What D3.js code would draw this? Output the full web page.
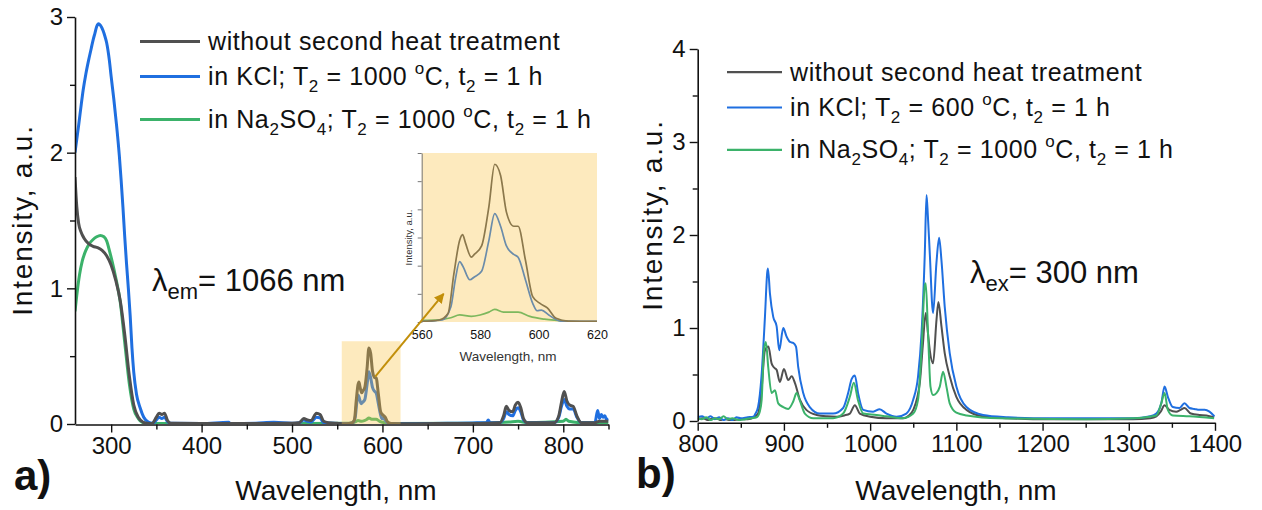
<!DOCTYPE html>
<meta charset="utf-8">
<script src="https://d3js.org/d3.v7.min.js"></script>
<style>
  body { margin: 0; background: #fff; }
  text { font-family: "Liberation Sans", Arial, sans-serif; fill: #111; }
</style>
<div id="chart"></div>
<script>
// ---- data: [wavelength nm, intensity a.u.] ----
// panel a) excitation spectra, lambda_em = 1066 nm
const aWithout = [[260,1.82],[262,1.6],[264,1.48],[267,1.41],[270,1.37],[275,1.33],[280,1.31],[285,1.3],[290,1.28],[295,1.24],[300,1.17],[305,1.06],[310,0.91],[315,0.66],[320,0.36],[325,0.14],[330,0.05],[335,0.015],[340,0.005],[345,0.003],[350,0.05],[353,0.08],[356,0.07],[359,0.08],[362,0.03],[366,0.005],[400,0.004],[450,0.004],[500,0.006],[508,0.01],[513,0.04],[517,0.03],[521,0.025],[527,0.08],[531,0.07],[535,0.02],[540,0.01],[550,0.005],[560,0.002],[566,0.007],[569,0.03],[571,0.17],[573,0.29],[574,0.31],[575,0.28],[577,0.23],[578,0.24],[580.5,0.27],[583,0.41],[585,0.56],[587,0.52],[589,0.39],[591.5,0.34],[593,0.34],[595.5,0.22],[598,0.09],[600.5,0.066],[603,0.05],[606,0.013],[610,0.003],[620,0.002],[660,0.003],[700,0.004],[730,0.01],[734,0.06],[737,0.13],[740,0.1],[744,0.09],[747,0.14],[750,0.16],[753,0.12],[756,0.04],[760,0.01],[790,0.01],[795,0.06],[798,0.16],[801,0.24],[804,0.17],[807,0.14],[811,0.13],[815,0.06],[820,0.01],[835,0.01],[840,0.02],[850,0.02]];
const aKCl = [[260,2.0],[262,2.1],[264,2.2],[267,2.36],[269,2.46],[272,2.58],[275,2.68],[278,2.77],[280,2.83],[282,2.88],[284,2.93],[286,2.95],[288,2.94],[291,2.9],[293,2.86],[295,2.81],[298,2.68],[300,2.56],[303,2.39],[306,2.2],[309,1.98],[311,1.8],[313,1.6],[315,1.38],[317,1.18],[319,1.0],[321,0.8],[323,0.56],[325,0.38],[328,0.22],[332,0.12],[336,0.05],[341,0.015],[346,0.005],[350,0.03],[353,0.05],[356,0.04],[359,0.05],[362,0.02],[366,0.005],[400,0.004],[430,0.012],[432,0.003],[460,0.006],[480,0.012],[500,0.005],[508,0.01],[513,0.03],[517,0.02],[521,0.015],[527,0.05],[531,0.045],[535,0.01],[550,0.004],[560,0.001],[567,0.007],[570,0.054],[571.5,0.15],[573,0.214],[574,0.2],[576.5,0.15],[578,0.16],[580.5,0.18],[583,0.29],[585,0.385],[587,0.34],[589,0.27],[591.5,0.24],[593,0.23],[595.5,0.15],[598,0.066],[599.5,0.04],[601,0.042],[603.5,0.025],[607.5,0.003],[620,0.002],[680,0.006],[700,0.008],[715,0.01],[717,0.03],[719,0.01],[730,0.01],[734,0.04],[737,0.09],[740,0.07],[744,0.06],[747,0.1],[750,0.12],[753,0.09],[756,0.03],[760,0.01],[790,0.01],[795,0.05],[798,0.13],[801,0.18],[804,0.13],[807,0.11],[811,0.11],[815,0.05],[820,0.01],[835,0.01],[838,0.1],[840,0.04],[842,0.07],[844,0.05],[846,0.06],[848,0.03],[850,0.04]];
const aNa2SO4 = [[260,0.83],[262,0.95],[265,1.1],[268,1.2],[272,1.28],[276,1.33],[280,1.36],[284,1.38],[288,1.39],[292,1.38],[295,1.35],[298,1.28],[301,1.2],[305,1.08],[310,0.9],[315,0.6],[320,0.3],[325,0.11],[330,0.04],[335,0.01],[340,0.003],[400,0.003],[500,0.003],[560,0.006],[566,0.008],[570,0.015],[573,0.025],[577,0.02],[580,0.025],[583,0.035],[585,0.045],[588,0.035],[593,0.035],[597,0.02],[602,0.01],[610,0.003],[700,0.005],[740,0.015],[750,0.02],[760,0.01],[800,0.02],[803,0.035],[806,0.02],[820,0.01],[850,0.01]];

// panel b) emission spectra, lambda_ex = 300 nm
const bWithout = [[800,0.02],[806,0.03],[812,0.01],[818,0.03],[824,0.02],[830,-0.01],[836,0.0],[842,0.01],[850,0.02],[858,0.02],[865,0.04],[870,0.08],[874,0.33],[878,0.76],[882,0.8],[885.7,0.62],[888,0.58],[891.5,0.55],[895.3,0.42],[900,0.56],[905,0.44],[909,0.48],[912.7,0.41],[918.5,0.23],[926,0.12],[938,0.065],[950,0.05],[961,0.046],[970,0.06],[976.5,0.08],[982.3,0.17],[988,0.08],[1000,0.046],[1019,0.03],[1038,0.03],[1045,0.06],[1050,0.12],[1057.6,0.41],[1061,0.8],[1064.5,1.16],[1067,0.95],[1069.2,0.76],[1073,0.62],[1077,1.09],[1079.2,1.28],[1082.7,1.02],[1086.5,0.73],[1092.3,0.48],[1100,0.26],[1111.7,0.12],[1131,0.05],[1160,0.03],[1189,0.02],[1250,0.02],[1305,0.02],[1325,0.03],[1332,0.05],[1337,0.1],[1341.5,0.17],[1347,0.12],[1355,0.1],[1360,0.12],[1364.6,0.14],[1372,0.08],[1382,0.065],[1390,0.06],[1399,0.04]];
const bKCl = [[800,0.04],[805,0.05],[810,0.03],[815,0.05],[820,0.02],[825,0.04],[830,0.01],[835,0.03],[840,0.01],[845,0.04],[850,0.03],[858,0.04],[864.5,0.046],[867,0.08],[870,0.15],[874,0.48],[878,1.12],[880.7,1.6],[881.5,1.64],[883.8,1.37],[887.6,1.12],[891.5,1.02],[894.6,0.76],[899.2,1.0],[903,0.91],[907,0.85],[910.8,0.84],[914,0.8],[916.6,0.58],[922.4,0.3],[930,0.15],[941.7,0.08],[957,0.08],[968.7,0.14],[974.5,0.3],[978.5,0.45],[982.3,0.49],[986,0.3],[992,0.12],[1003.5,0.1],[1011,0.126],[1019,0.08],[1030.6,0.046],[1042,0.08],[1050,0.23],[1055.6,0.48],[1059.6,0.94],[1063.4,1.8],[1065.4,2.43],[1067,2.2],[1069.2,1.8],[1073,1.16],[1076.9,1.7],[1080,1.97],[1082.7,1.73],[1086.5,1.23],[1092.3,0.73],[1100,0.37],[1111.7,0.15],[1131,0.065],[1160,0.04],[1189,0.03],[1250,0.03],[1305,0.03],[1325,0.05],[1332,0.08],[1337.7,0.19],[1341.5,0.37],[1345.3,0.26],[1351,0.15],[1358.8,0.14],[1364.6,0.19],[1370.4,0.14],[1376,0.13],[1382,0.12],[1388,0.12],[1393.6,0.1],[1399.4,0.05]];
const bNa2SO4 = [[800,0.03],[805,0.02],[810,0.04],[815,0.01],[820,0.03],[825,0.02],[830,0.05],[835,0.02],[840,0.03],[848,0.01],[855,0.02],[862,0.03],[868.4,0.04],[872,0.1],[874.2,0.23],[876.8,0.76],[879.1,0.85],[881.8,0.58],[885.7,0.3],[889.6,0.33],[893.4,0.19],[899.2,0.15],[905,0.13],[910.8,0.21],[914.7,0.3],[918.5,0.22],[924.3,0.08],[934,0.03],[957,0.03],[968.7,0.08],[976.5,0.26],[981.1,0.41],[986,0.22],[992,0.08],[1007.4,0.065],[1019,0.05],[1038,0.03],[1050,0.08],[1055.6,0.23],[1059.6,0.76],[1063.4,1.46],[1064.5,1.48],[1067.3,0.91],[1070,0.37],[1073,0.28],[1076.9,0.3],[1080.8,0.37],[1084.6,0.53],[1088.5,0.37],[1092.3,0.19],[1100,0.09],[1112,0.06],[1150,0.03],[1250,0.02],[1305,0.03],[1332,0.06],[1337.7,0.19],[1341.5,0.3],[1345.3,0.12],[1351,0.06],[1370,0.05],[1399,0.03]];

const aXTicks = [300, 400, 500, 600, 700, 800];
const aXMinor = [350, 450, 550, 650, 750, 850];
const aYTicks = [0, 1, 2, 3];
const aYMinor = [0.5, 1.5, 2.5];
const bXTicks = [800, 900, 1000, 1100, 1200, 1300, 1400];
const bXMinor = [850, 950, 1050, 1150, 1250, 1350];
const bYTicks = [0, 1, 2, 3, 4];
const bYMinor = [0.5, 1.5, 2.5, 3.5];
const insetXTicks = [560, 580, 600, 620];
const insetYTicks = [0, 0.1, 0.2, 0.3, 0.4, 0.5, 0.6];
const highlight = {x0: 555, x1: 620, y1: 0.61};   // zoomed region in panel a

const colors = {without: "#505050", kcl: "#1f6fe0", na: "#3bb26a"};
const shade = {fill: "#f9c345", opacity: 0.35};

const W = 1262, H = 510;
const svg = d3.select("#chart").append("svg")
  .attr("width", W).attr("height", H);

const defs = svg.append("defs");

function drawPanel(p) {
  const g = svg.append("g");
  const x = d3.scaleLinear().domain(p.xDomain).range(p.xRange);
  const y = d3.scaleLinear().domain(p.yDomain).range(p.yRange);

  defs.append("clipPath").attr("id", p.id + "clip")
    .append("rect")
      .attr("x", p.xRange[0]).attr("y", p.yRange[1] - 5)
      .attr("width", p.xRange[1] - p.xRange[0])
      .attr("height", p.yRange[0] - p.yRange[1] + 5);

  const line = d3.line()
    .x(d => x(d[0])).y(d => y(d[1]))
    .curve(d3.curveMonotoneX);

  const lines = g.append("g").attr("clip-path", `url(#${p.id}clip)`);
  p.series.forEach(s => {
    lines.append("path")
      .datum(s.data)
      .attr("fill", "none")
      .attr("stroke", s.color)
      .attr("stroke-width", p.lineWidth)
      .attr("stroke-linejoin", "round")
      .attr("d", line);
  });

  // x axis
  const xAxisY = p.yRange[0] + p.axisOffset;
  g.append("g")
    .attr("transform", `translate(0,${xAxisY})`)
    .call(d3.axisBottom(x).tickValues(p.xMinor).tickSize(5).tickSizeOuter(0).tickFormat(""))
    .call(a => a.select(".domain").remove());
  g.append("g")
    .attr("transform", `translate(0,${xAxisY})`)
    .call(d3.axisBottom(x).tickValues(p.xTicks).tickSize(8).tickSizeOuter(0).tickPadding(4).tickFormat(d3.format("d")))
    .call(a => a.selectAll("text").style("font-size", "24px").attr("fill", "#111"));

  // y axis
  g.append("g")
    .attr("transform", `translate(${p.xRange[0]},0)`)
    .call(d3.axisLeft(y).tickValues(p.yMinor).tickSize(5).tickSizeOuter(0).tickFormat(""))
    .call(a => a.select(".domain").remove());
  g.append("g")
    .attr("transform", `translate(${p.xRange[0]},0)`)
    .call(d3.axisLeft(y).tickValues(p.yTicks).tickSize(8).tickSizeOuter(0).tickPadding(4).tickFormat(d3.format("d")))
    .call(a => a.selectAll("text").style("font-size", "24px").attr("fill", "#111"));

  g.selectAll(".domain").attr("stroke", "#111").attr("stroke-width", 1.6);
  g.selectAll(".tick line").attr("stroke", "#111").attr("stroke-width", 1.4);

  // axis titles
  g.append("text")
    .attr("x", p.xTitle[0]).attr("y", p.xTitle[1])
    .attr("text-anchor", "middle").style("font-size", "28px")
    .text("Wavelength, nm");
  g.append("text")
    .attr("transform", `translate(${p.yTitle[0]},${p.yTitle[1]}) rotate(-90)`)
    .attr("text-anchor", "middle").attr("dominant-baseline", "central")
    .style("font-size", "28px").style("letter-spacing", "1.8px")
    .text("Intensity, a.u.");

  // panel letter
  g.append("text")
    .attr("x", p.letter[0]).attr("y", p.letter[1])
    .style("font-size", "42px").style("font-weight", "bold")
    .text(p.letterText);

  // lambda label
  const lam = g.append("text")
    .attr("x", p.lambda[0]).attr("y", p.lambda[1])
    .style("font-size", "31px");
  lam.append("tspan").text("\u03bb");
  lam.append("tspan").attr("dy", 8).style("font-size", "22px").text(p.lambdaSub);
  lam.append("tspan").attr("dy", -8).text(p.lambdaText);

  // legend
  p.legend.forEach((l, i) => {
    const ly = p.legendY[i];
    g.append("line")
      .attr("x1", p.legendX).attr("x2", p.legendX + p.legendLen)
      .attr("y1", ly - 8.5).attr("y2", ly - 8.5)
      .attr("stroke", l.color).attr("stroke-width", p.legendWidth);
    const t = g.append("text")
      .attr("x", p.legendX + p.legendLen + 8).attr("y", ly)
      .style("font-size", "25px").style("letter-spacing", "0.6px");
    l.parts.forEach(part => {
      const ts = t.append("tspan").text(part[0]);
      if (part[1] === "sub") ts.attr("dy", 7).style("font-size", "17px");
      else if (part[1] === "sup") ts.attr("dy", -11).style("font-size", "17px");
      else if (part[1] === "back") ts.attr("dy", -7);
      else if (part[1] === "down") ts.attr("dy", 11);
    });
  });

  return {g, x, y};
}

function legendParts(kind, temp) {
  if (kind === "without") return [["without second heat treatment"]];
  const salt = kind === "kcl" ? [["in KCl; T"]] : [["in Na"], ["2", "sub"], ["SO", "back"], ["4", "sub"], ["; T", "back"]];
  return salt.concat([["2", "sub"], [` = ${temp} `, "back"], ["o", "sup"], ["C, t", "down"], ["2", "sub"], [" = 1 h", "back"]]);
}

const panelA = drawPanel({
  id: "a",
  xDomain: [260, 850], xRange: [75, 608.5],
  yDomain: [0, 3], yRange: [424, 17],
  axisOffset: 0.5,
  xTicks: aXTicks, xMinor: aXMinor, yTicks: aYTicks, yMinor: aYMinor,
  lineWidth: 3,
  series: [
    {data: aNa2SO4, color: colors.na},
    {data: aKCl, color: colors.kcl},
    {data: aWithout, color: colors.without}
  ],
  xTitle: [336, 500], yTitle: [22, 220],
  letter: [14, 490], letterText: "a)",
  lambda: [152, 290.7], lambdaSub: "em", lambdaText: "= 1066 nm",
  legendX: 140, legendLen: 60, legendWidth: 3, legendY: [50, 85, 128],
  legend: [
    {color: colors.without, parts: legendParts("without")},
    {color: colors.kcl, parts: legendParts("kcl", 1000)},
    {color: colors.na, parts: legendParts("na", 1000)}
  ]
});

const panelB = drawPanel({
  id: "b",
  xDomain: [800, 1400], xRange: [697.7, 1215],
  yDomain: [0, 4], yRange: [421, 49],
  axisOffset: 1.8,
  xTicks: bXTicks, xMinor: bXMinor, yTicks: bYTicks, yMinor: bYMinor,
  lineWidth: 2,
  series: [
    {data: bWithout, color: colors.without},
    {data: bKCl, color: colors.kcl},
    {data: bNa2SO4, color: colors.na}
  ],
  xTitle: [956, 500], yTitle: [652, 215],
  letter: [636, 488], letterText: "b)",
  lambda: [970, 283.3], lambdaSub: "ex", lambdaText: "= 300 nm",
  legendX: 727, legendLen: 55, legendWidth: 2.2, legendY: [80.7, 116, 158.3],
  legend: [
    {color: colors.without, parts: legendParts("without")},
    {color: colors.kcl, parts: legendParts("kcl", 600)},
    {color: colors.na, parts: legendParts("na", 1000)}
  ]
});

// highlighted region in panel a, laid semi-transparently over the lines
const xa = panelA.x, ya = panelA.y;
panelA.g.append("rect")
  .attr("x", xa(highlight.x0)).attr("y", ya(highlight.y1))
  .attr("width", xa(highlight.x1) - xa(highlight.x0))
  .attr("height", ya(0) - ya(highlight.y1))
  .attr("fill", shade.fill).attr("fill-opacity", shade.opacity);

// ---- inset: zoom of 560-620 nm ----
const ix = d3.scaleLinear().domain([560, 620]).range([421.7, 597]);
const iy = d3.scaleLinear().domain([0, 0.6]).range([322, 153]);
const inset = svg.append("g");

defs.append("clipPath").attr("id", "iclip")
  .append("rect").attr("x", ix(560)).attr("y", iy(0.6))
  .attr("width", ix(620) - ix(560)).attr("height", iy(0) - iy(0.6));

const iline = d3.line().x(d => ix(d[0])).y(d => iy(d[1])).curve(d3.curveMonotoneX);
const ilines = inset.append("g").attr("clip-path", "url(#iclip)");
[[aNa2SO4, colors.na], [aKCl, colors.kcl], [aWithout, colors.without]].forEach(([data, c]) => {
  ilines.append("path")
    .datum(data.filter(d => d[0] >= 555 && d[0] <= 625))
    .attr("fill", "none").attr("stroke", c).attr("stroke-width", 1.7)
    .attr("d", iline);
});
inset.append("rect")
  .attr("x", ix(560)).attr("y", iy(0.6))
  .attr("width", ix(620) - ix(560)).attr("height", iy(0) - iy(0.6))
  .attr("fill", shade.fill).attr("fill-opacity", shade.opacity);

inset.append("g")
  .attr("transform", `translate(${ix(560)},0)`)
  .call(d3.axisLeft(iy).tickValues(insetYTicks).tickSize(4).tickSizeOuter(0).tickFormat(""))
  .call(a => a.selectAll("line, path").attr("stroke", "#777").attr("stroke-width", 1));
inset.append("g")
  .attr("transform", `translate(0,${iy(0)})`)
  .call(d3.axisBottom(ix).tickValues(insetXTicks).tickSize(0).tickPadding(8))
  .call(a => a.select(".domain").remove())
  .call(a => a.selectAll("text").style("font-size", "12.5px").attr("fill", "#333"));
inset.append("text")
  .attr("x", 508).attr("y", 361)
  .attr("text-anchor", "middle").style("font-size", "13.5px").style("fill", "#333")
  .text("Wavelength, nm");
inset.append("text")
  .attr("transform", `translate(408,${(iy(0) + iy(0.6)) / 2}) rotate(-90)`)
  .attr("text-anchor", "middle").attr("dominant-baseline", "central")
  .style("font-size", "9.5px").style("fill", "#333")
  .text("Intensity, a.u.");

// arrow from the highlighted region to the inset
defs.append("marker").attr("id", "arrowhead")
  .attr("viewBox", "0 0 10 10").attr("refX", 9).attr("refY", 5)
  .attr("markerWidth", 5).attr("markerHeight", 5).attr("orient", "auto")
  .append("path").attr("d", "M0,0L10,5L0,10z").attr("fill", "#c28f0a");
svg.append("line")
  .attr("x1", xa(592)).attr("y1", ya(0.35))
  .attr("x2", ix(567.5)).attr("y2", iy(0.1))
  .attr("stroke", "#c28f0a").attr("stroke-width", 2)
  .attr("marker-end", "url(#arrowhead)");
</script>
